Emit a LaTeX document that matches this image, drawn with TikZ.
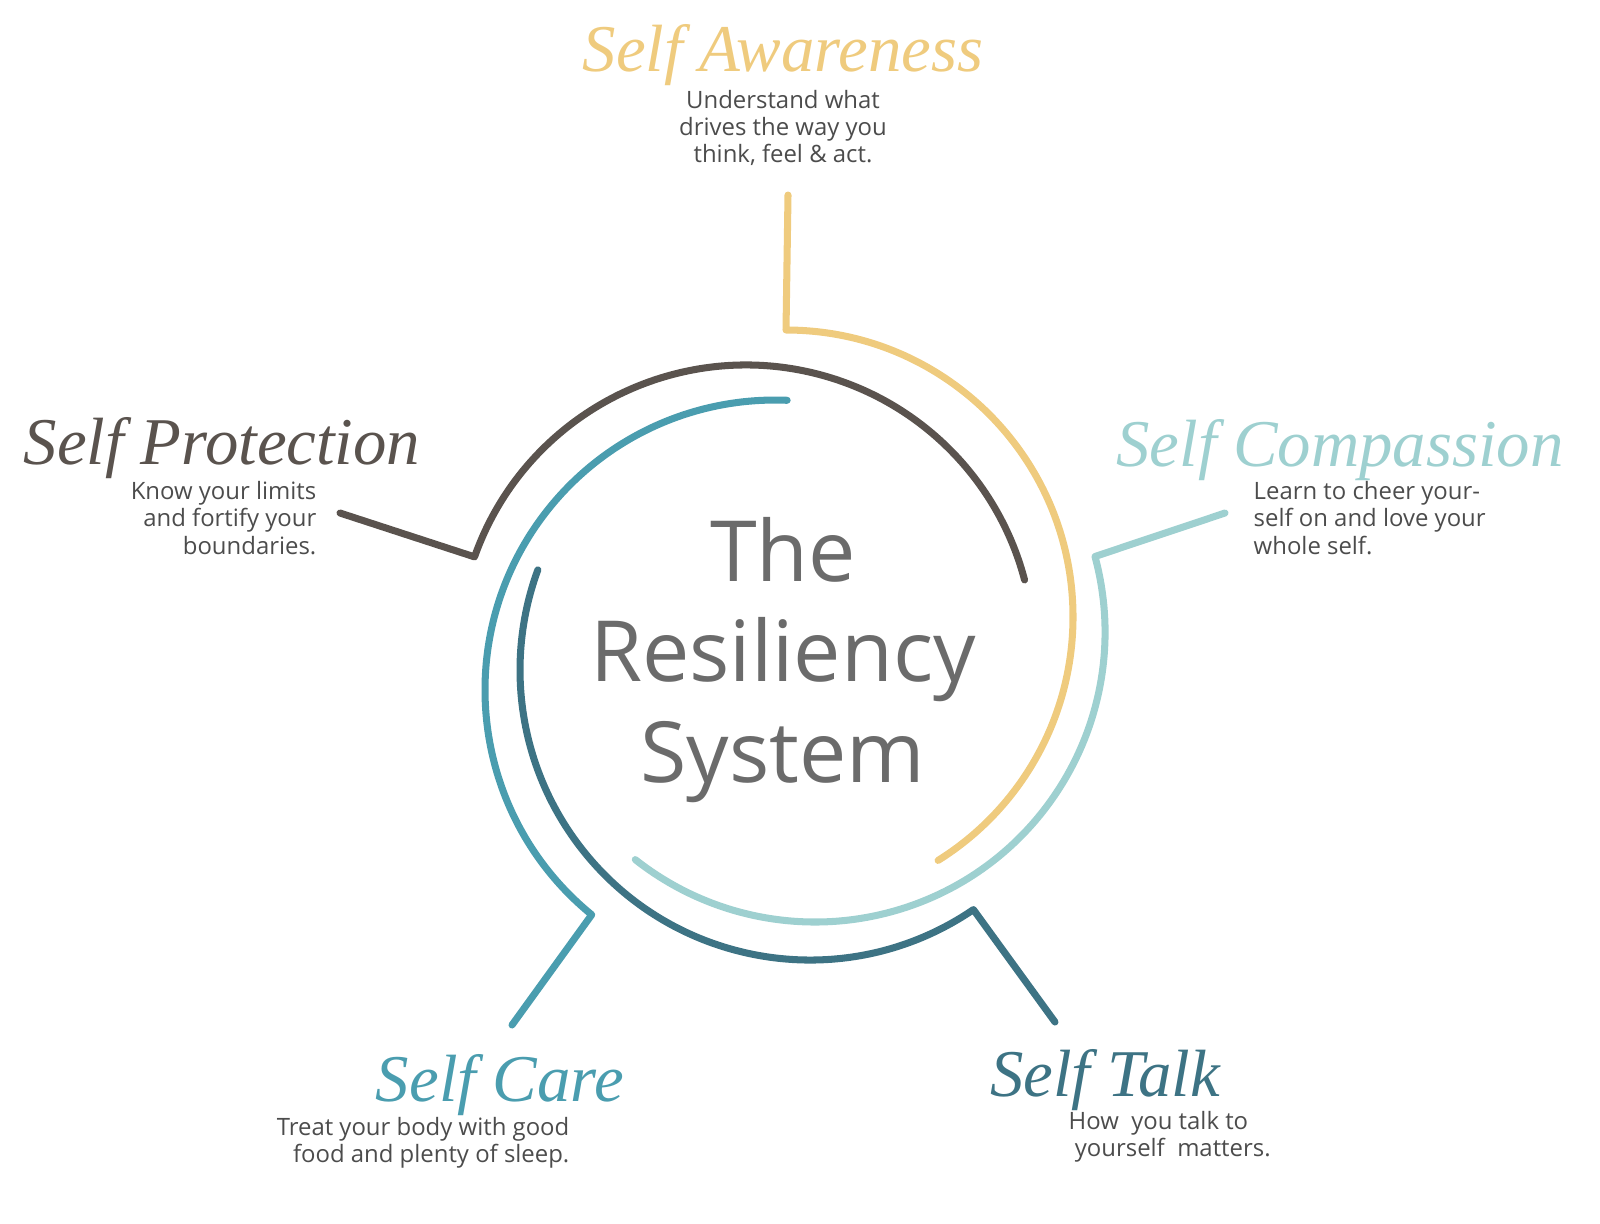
\documentclass[tikz,border=0pt]{standalone}
\usepackage{fontspec}
\setmainfont{Open Sans}
\newfontfamily\titlefont{Liberation Serif}
\usetikzlibrary{calc}
\definecolor{awareC}{HTML}{EFCB7E}
\definecolor{protectC}{HTML}{5A534E}
\definecolor{compassC}{HTML}{9ED0D0}
\definecolor{careC}{HTML}{4A9DAF}
\definecolor{talkC}{HTML}{3D7384}
\definecolor{centerC}{HTML}{6B6B6B}
\begin{document}
\begin{tikzpicture}[x=0.01cm,y=-0.01cm,
  ring/.style={line width=2pt, line cap=round, line join=round},
  title/.style={font=\titlefont\itshape\fontsize{19}{22}\selectfont, inner sep=0pt},
  body/.style={font=\fontsize{6.8}{7.8}\selectfont, text=black!70, inner sep=0pt}]
\useasboundingbox (0,0) rectangle (1600,1223);
% the five arcs
\draw[ring,protectC] (340,513) -- ($(746,653)+(199.5:288)$) arc[start angle=199.5,end angle=345.3,radius=288];
\draw[ring,awareC] (788,195) -- ($(786,617)+(270:287)$) arc[start angle=270,end angle=418,radius=287];
\draw[ring,compassC] (1225,513) -- ($(815,632)+(-15.1:290)$) arc[start angle=-15.1,end angle=128.3,radius=290];
\draw[ring,talkC] (1055,1022) -- ($(810,670)+(55.7:290)$) arc[start angle=55.7,end angle=200.2,radius=290];
\draw[ring,careC] (512,1025) -- ($(775,690)+(129.2:290)$) arc[start angle=129.2,end angle=272.4,radius=290];
% centre
\node[font=\fontsize{24}{28.5}\selectfont, text=centerC, align=center] (sys) at (783,660) {The\\Resiliency\\System};
% labels
\node[title,text=awareC] (aware) at (783,55) {Self Awareness};
\node[body,align=center] (awareT) at (783,128) {Understand what\\drives the way you\\think, feel \& act.};
\node[title,text=protectC] (protect) at (222,448) {Self Protection};
\node[body,align=right,anchor=east] (protectT) at (317,518) {Know your limits\\and fortify your\\boundaries.};
\node[title,text=compassC] (compass) at (1340,450) {Self Compassion};
\node[body,align=left,anchor=west] (compassT) at (1253,518) {Learn to cheer your-\\self on and love your\\whole self.};
\node[title,text=careC] (care) at (500,1085) {Self Care};
\node[body,align=right,anchor=east] (careT) at (570,1143) {Treat your body with good\\food and plenty of sleep.};
\node[title,text=talkC] (talk) at (1105,1080) {Self Talk};
\node[body,align=left,anchor=west] (talkT) at (1068,1137) {How\ \ you talk to\\\ yourself\ \ matters.};
\end{tikzpicture}
\end{document}
